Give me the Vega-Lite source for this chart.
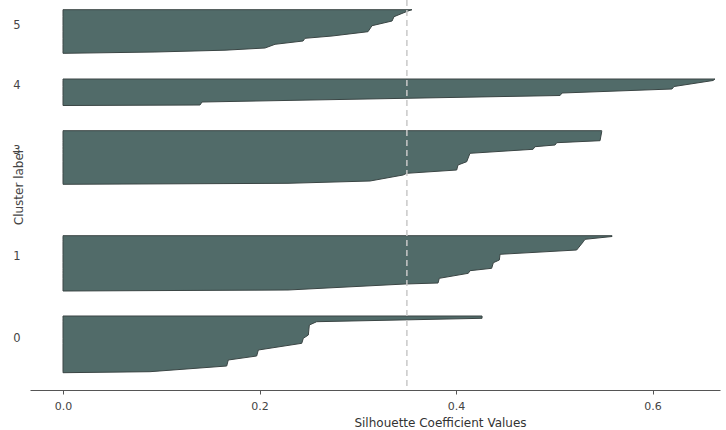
{
  "$schema": "https://vega.github.io/schema/vega-lite/v6.json",
  "width": 690,
  "height": 390,
  "autosize": {"type": "none"},
  "padding": {"left": 30, "top": 0, "right": 6, "bottom": 40},
  "background": "white",
  "config": {
    "view": {"stroke": null},
    "font": "DejaVu Sans"
  },
  "datasets": {
    "sil": [
      {"cluster": "5", "y": 336.7, "v": 0.002},
      {"cluster": "5", "y": 338.0, "v": 0.0936},
      {"cluster": "5", "y": 339.8, "v": 0.1649},
      {"cluster": "5", "y": 342.0, "v": 0.2056},
      {"cluster": "5", "y": 345.7, "v": 0.2158},
      {"cluster": "5", "y": 349.0, "v": 0.2443},
      {"cluster": "5", "y": 351.7, "v": 0.2463},
      {"cluster": "5", "y": 354.0, "v": 0.2738},
      {"cluster": "5", "y": 358.3, "v": 0.3104},
      {"cluster": "5", "y": 364.3, "v": 0.3145},
      {"cluster": "5", "y": 369.0, "v": 0.3349},
      {"cluster": "5", "y": 373.3, "v": 0.3369},
      {"cluster": "5", "y": 379.0, "v": 0.3511},
      {"cluster": "5", "y": 380.3, "v": 0.3552},

      {"cluster": "4", "y": 284.5, "v": 0.001},
      {"cluster": "4", "y": 285.0, "v": 0.1394},
      {"cluster": "4", "y": 288.0, "v": 0.1415},
      {"cluster": "4", "y": 294.5, "v": 0.5059},
      {"cluster": "4", "y": 297.0, "v": 0.5079},
      {"cluster": "4", "y": 301.0, "v": 0.6198},
      {"cluster": "4", "y": 303.5, "v": 0.6219},
      {"cluster": "4", "y": 309.5, "v": 0.6616},
      {"cluster": "4", "y": 311.0, "v": 0.6636},

      {"cluster": "3", "y": 205.7, "v": 0.001},
      {"cluster": "3", "y": 206.7, "v": 0.229},
      {"cluster": "3", "y": 209.0, "v": 0.3125},
      {"cluster": "3", "y": 215.0, "v": 0.3461},
      {"cluster": "3", "y": 216.7, "v": 0.3498},
      {"cluster": "3", "y": 220.0, "v": 0.4007},
      {"cluster": "3", "y": 225.0, "v": 0.402},
      {"cluster": "3", "y": 228.3, "v": 0.4109},
      {"cluster": "3", "y": 236.7, "v": 0.4142},
      {"cluster": "3", "y": 240.7, "v": 0.4784},
      {"cluster": "3", "y": 243.3, "v": 0.4804},
      {"cluster": "3", "y": 245.0, "v": 0.5008},
      {"cluster": "3", "y": 247.3, "v": 0.5025},
      {"cluster": "3", "y": 249.3, "v": 0.5466},
      {"cluster": "3", "y": 258.3, "v": 0.5483},
      {"cluster": "3", "y": 259.3, "v": 0.5483},

      {"cluster": "1", "y": 99.0, "v": 0.001},
      {"cluster": "1", "y": 100.0, "v": 0.229},
      {"cluster": "1", "y": 106.0, "v": 0.3481},
      {"cluster": "1", "y": 107.0, "v": 0.3817},
      {"cluster": "1", "y": 111.7, "v": 0.383},
      {"cluster": "1", "y": 116.7, "v": 0.4125},
      {"cluster": "1", "y": 119.3, "v": 0.4142},
      {"cluster": "1", "y": 121.7, "v": 0.4363},
      {"cluster": "1", "y": 127.3, "v": 0.438},
      {"cluster": "1", "y": 130.0, "v": 0.4441},
      {"cluster": "1", "y": 135.7, "v": 0.4448},
      {"cluster": "1", "y": 140.0, "v": 0.5228},
      {"cluster": "1", "y": 148.3, "v": 0.5296},
      {"cluster": "1", "y": 150.7, "v": 0.5313},
      {"cluster": "1", "y": 153.5, "v": 0.5588},
      {"cluster": "1", "y": 154.3, "v": 0.5588},

      {"cluster": "0", "y": 17.3, "v": 0.001},
      {"cluster": "0", "y": 18.3, "v": 0.0885},
      {"cluster": "0", "y": 24.0, "v": 0.1666},
      {"cluster": "0", "y": 30.0, "v": 0.1682},
      {"cluster": "0", "y": 34.0, "v": 0.1971},
      {"cluster": "0", "y": 40.0, "v": 0.1988},
      {"cluster": "0", "y": 46.7, "v": 0.243},
      {"cluster": "0", "y": 51.7, "v": 0.2446},
      {"cluster": "0", "y": 55.0, "v": 0.2497},
      {"cluster": "0", "y": 65.0, "v": 0.2507},
      {"cluster": "0", "y": 68.3, "v": 0.2582},
      {"cluster": "0", "y": 71.7, "v": 0.4265},
      {"cluster": "0", "y": 74.0, "v": 0.4265}
    ],
    "labels": [
      {"label": "5", "y": 364},
      {"label": "4", "y": 304},
      {"label": "3", "y": 239},
      {"label": "1", "y": 133},
      {"label": "0", "y": 51}
    ],
    "avg": [
      {"score": 0.35}
    ]
  },
  "layer": [
    {
      "data": {"name": "sil"},
      "mark": {"type": "area", "orient": "horizontal", "fill": "#516b69", "stroke": "#3a4544", "strokeWidth": 1, "fillOpacity": 1},
      "encoding": {
        "y": {
          "field": "y", "type": "quantitative",
          "scale": {"domain": [0, 390], "nice": false, "zero": false},
          "axis": {
            "labels": false, "ticks": false, "domain": false, "grid": false,
            "title": "Cluster label", "titleFontSize": 12, "titleFontWeight": "normal",
            "titleColor": "#444", "titleX": -12, "titleY": 187, "titleBaseline": "middle",
            "titleAngle": -90, "titleAlign": "center"
          }
        },
        "x": {
          "field": "v", "type": "quantitative",
          "scale": {"domain": [-0.0336, 0.6687], "nice": false, "zero": false},
          "axis": {
            "values": [0, 0.2, 0.4, 0.6], "format": ".1f", "grid": false,
            "domainColor": "#555", "tickColor": "#555", "tickSize": 4,
            "labelFontSize": 11, "labelColor": "#444", "labelPadding": 6,
            "title": "Silhouette Coefficient Values", "titleFontSize": 12,
            "titleFontWeight": "normal", "titleColor": "#333",
            "titleX": 410, "titleY": 32, "titleBaseline": "middle", "titleAlign": "center", "titleAnchor": null
          }
        },
        "x2": {"datum": 0},
        "detail": {"field": "cluster", "type": "nominal"}
      }
    },
    {
      "data": {"name": "avg"},
      "mark": {"type": "rule", "color": "#c8c8c8", "strokeDash": [6, 4], "strokeWidth": 1.5},
      "encoding": {"x": {"field": "score", "type": "quantitative"}}
    },
    {
      "data": {"name": "labels"},
      "mark": {"type": "text", "fontSize": 11.5, "color": "#444", "align": "center", "baseline": "middle"},
      "encoding": {
        "y": {"field": "y", "type": "quantitative"},
        "x": {"datum": -0.047},
        "text": {"field": "label"}
      }
    }
  ]
}
